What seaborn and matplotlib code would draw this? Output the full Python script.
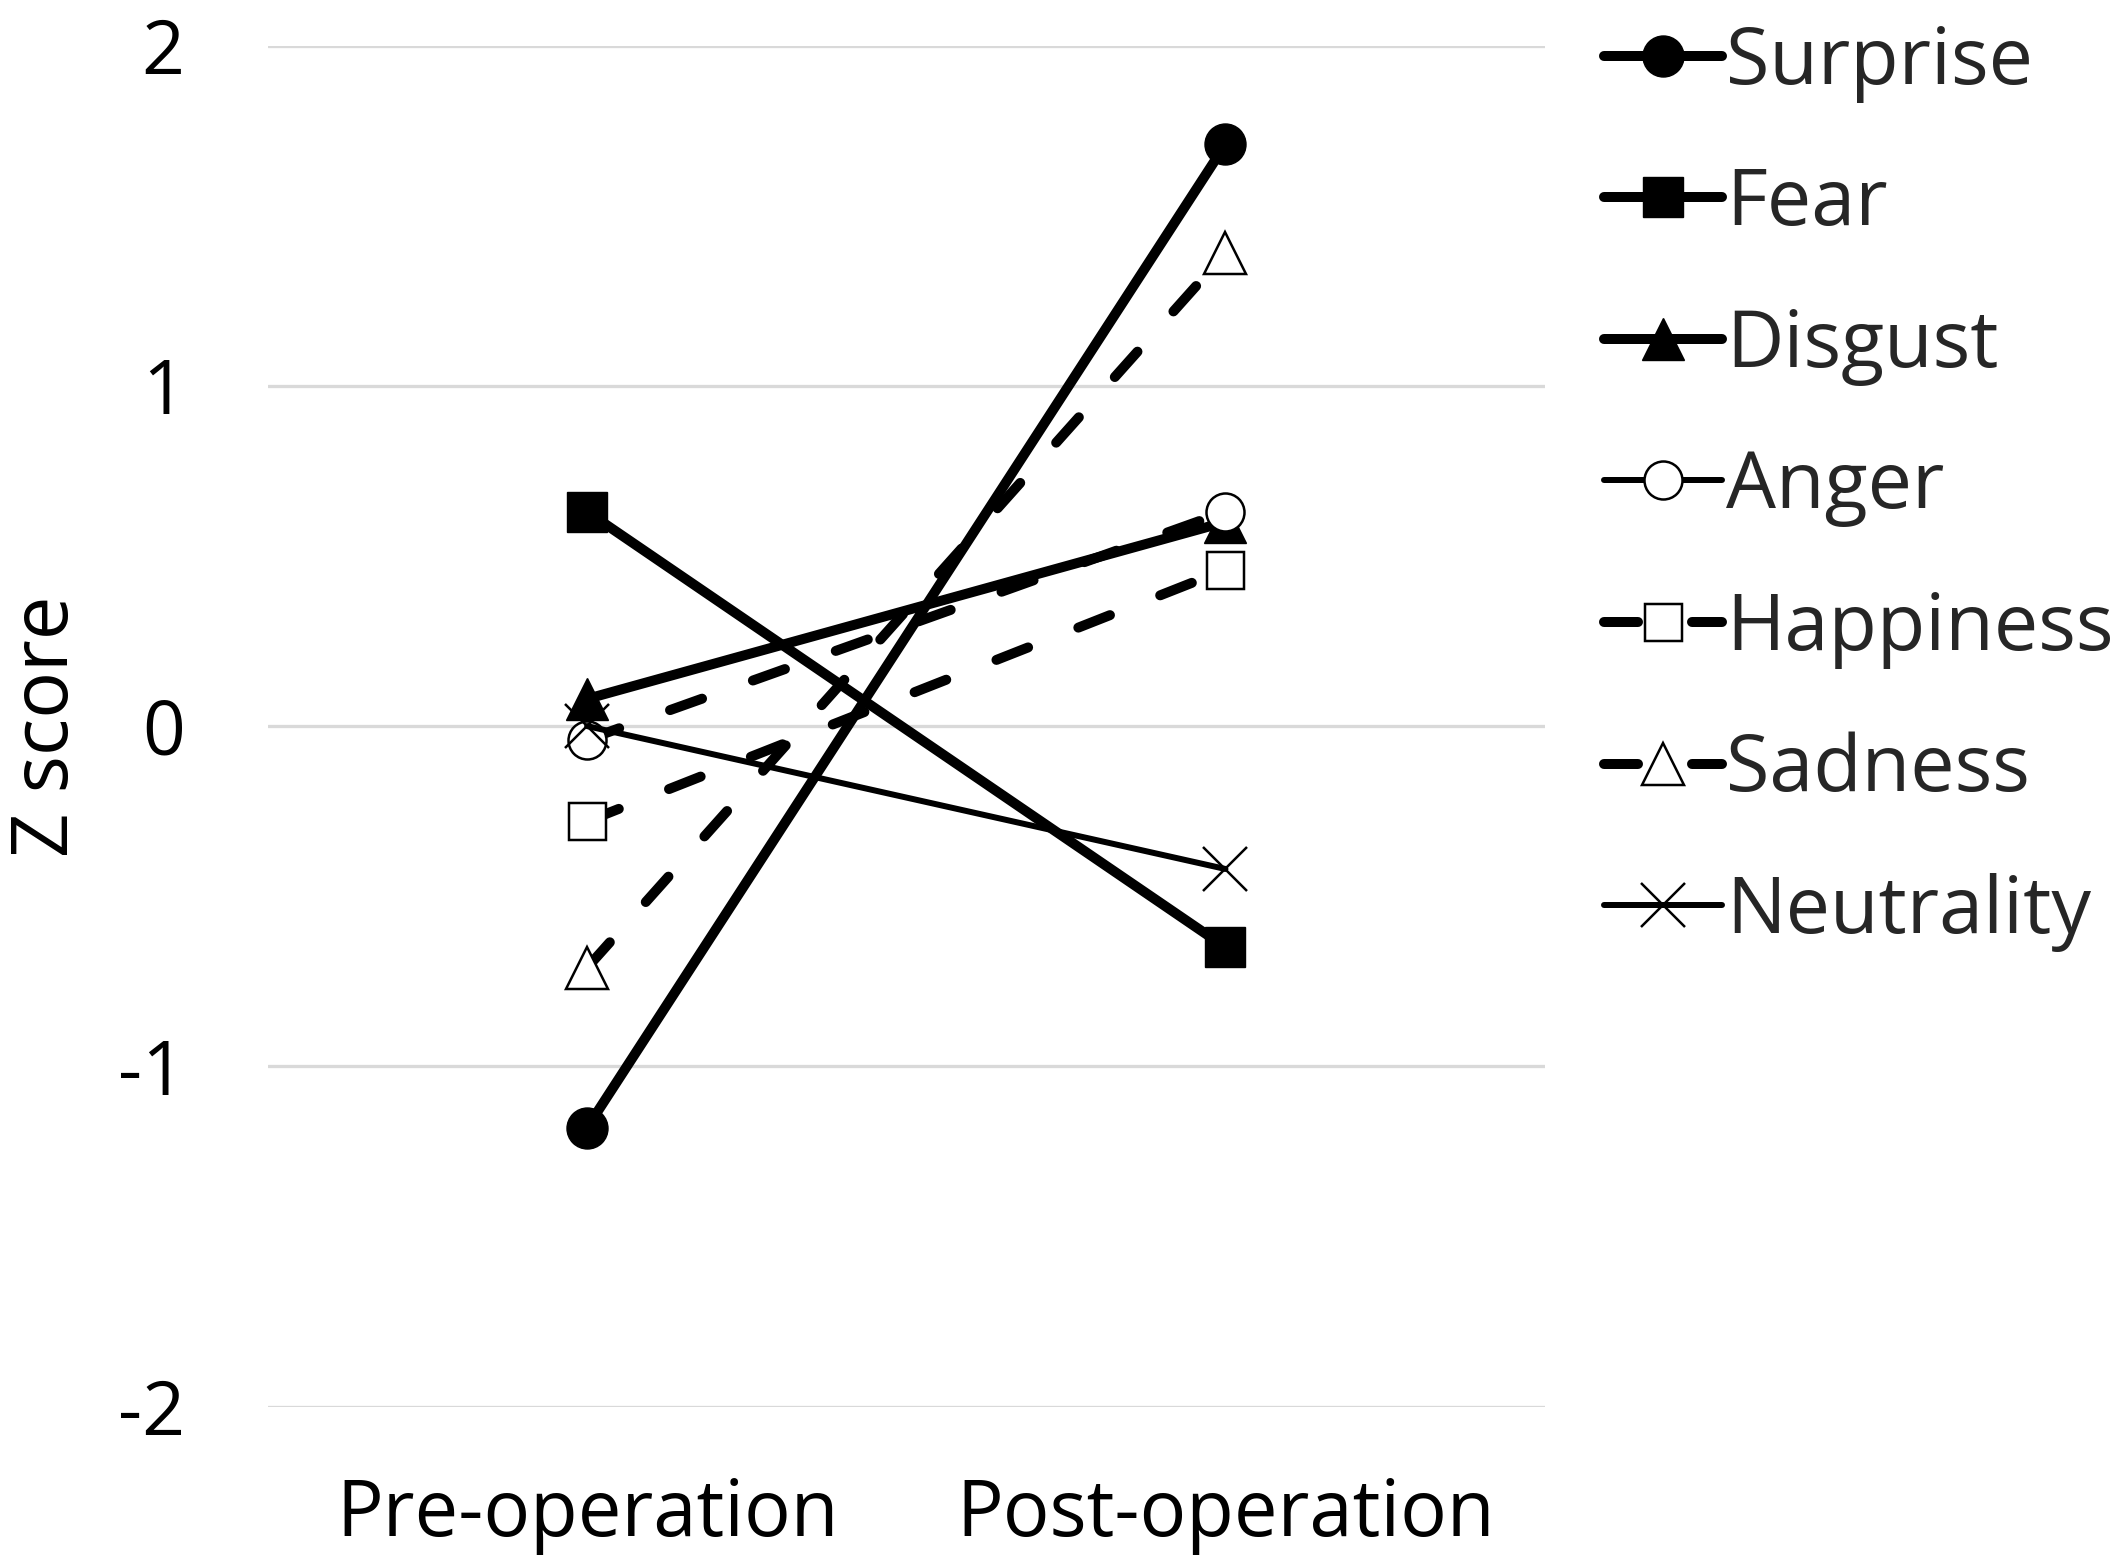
import matplotlib
matplotlib.use("Agg")
import matplotlib.pyplot as plt
from matplotlib.lines import Line2D
import seaborn as sns
import pandas as pd

# ---- data ----
timepoints = ["Pre-operation", "Post-operation"]
emotions = ["Surprise", "Fear", "Disgust", "Anger", "Happiness", "Sadness", "Neutrality"]
surprise = [-1.18, 1.71]
fear = [0.63, -0.65]
disgust = [0.08, 0.60]
anger = [-0.04, 0.63]
happiness = [-0.28, 0.46]
sadness = [-0.71, 1.39]
neutrality = [0.00, -0.42]
yticks = [-2, -1, 0, 1, 2]
ylabel = "Z score"

series = [surprise, fear, disgust, anger, happiness, sadness, neutrality]

sns.set_theme(style="white")
plt.rcParams["font.family"] = ["Open Sans", "DejaVu Sans"]

PX = 72 / 100.0  # points per pixel at dpi 100
thick = 10 * PX
thin = 6 * PX
dash = (3.4, 5.4)

styles = {
    "Surprise":   dict(marker="o", ms=41 * PX, mfc="black", mec="black", mew=1, lw=thick, ls="-"),
    "Fear":       dict(marker="s", ms=40 * PX, mfc="black", mec="black", mew=1, lw=thick, ls="-"),
    "Disgust":    dict(marker="^", ms=42 * PX, mfc="black", mec="black", mew=1, lw=thick, ls="-"),
    "Anger":      dict(marker="o", ms=38 * PX, mfc="white", mec="black", mew=2.5 * PX, lw=thick, ls=(0, dash)),
    "Happiness":  dict(marker="s", ms=37 * PX, mfc="white", mec="black", mew=2.5 * PX, lw=thick, ls=(0, dash)),
    "Sadness":    dict(marker="^", ms=42 * PX, mfc="white", mec="black", mew=2.5 * PX, lw=thick, ls=(0, dash)),
    "Neutrality": dict(marker="x", ms=44 * PX, mfc="black", mec="black", mew=2.5 * PX, lw=thin, ls="-"),
}

fig = plt.figure(figsize=(21.22, 15.63), dpi=100)
ax = fig.add_axes([0.1263, 0.1001, 0.6016, 0.8707])

for name, vals in zip(emotions, series):
    st = styles[name]
    df = pd.DataFrame({"time": timepoints, "z": vals})
    sns.lineplot(data=df, x="time", y="z", ax=ax, color="black", sort=False,
                 estimator=None, linewidth=st["lw"], linestyle=st["ls"],
                 marker=st["marker"], markersize=st["ms"], markerfacecolor=st["mfc"],
                 markeredgecolor=st["mec"], markeredgewidth=st["mew"],
                 dash_capstyle="round", solid_capstyle="round", legend=False)

ax.set_xlim(-0.5, 1.5)
ax.set_ylim(-2, 2)
ax.set_yticks(yticks)
ax.set_yticklabels([str(t) for t in yticks])
ax.yaxis.grid(True, color="#d9d9d9", linewidth=3.3 * PX)
ax.xaxis.grid(False)
ax.set_axisbelow(True)
for s in ax.spines.values():
    s.set_visible(False)
ax.tick_params(axis="y", length=0, pad=60, labelsize=54, labelcolor="black")
ax.tick_params(axis="x", length=0, pad=50, labelsize=56, labelcolor="black")
ax.set_xlabel("")
ax.set_ylabel(ylabel, fontsize=56, color="black")
ax.yaxis.set_label_coords(-0.142, 0.5)

# legend
handles = []
for name in emotions:
    st = styles[name]
    lw = st["lw"]
    ls = st["ls"]
    if name == "Anger":
        lw, ls = thin, "-"
    handles.append(Line2D([0], [0], color="black", lw=lw, ls=ls, marker=st["marker"],
                          ms=st["ms"], mfc=st["mfc"], mec=st["mec"], mew=st["mew"],
                          dash_capstyle="round", solid_capstyle="round"))
fig.legend(handles, emotions, loc="upper left", bbox_to_anchor=(0.752, 0.99),
           frameon=False, fontsize=57, handlelength=1.5, handletextpad=0.05,
           labelspacing=0.79, borderpad=0.1, borderaxespad=0)

fig.savefig("out.png", dpi=100, facecolor="white")
